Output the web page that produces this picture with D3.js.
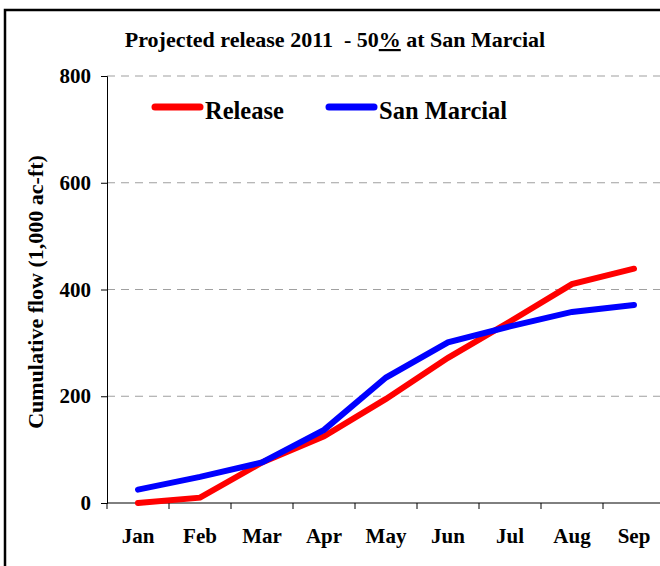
<!DOCTYPE html>
<html>
<head>
<meta charset="utf-8">
<script src="https://cdn.jsdelivr.net/npm/d3@7"></script>
<style>
  body { margin: 0; background: #fff; }
  svg { display: block; font-family: "Liberation Serif", "Times New Roman", serif; font-weight: bold; }
</style>
</head>
<body>
<svg id="chart" width="660" height="566"></svg>
<script>
// Chart data
var months = ['Jan', 'Feb', 'Mar', 'Apr', 'May', 'Jun', 'Jul', 'Aug', 'Sep'];
var release = [0, 10, 76, 125, 195, 272, 340, 410, 439];
var sanMarcial = [25, 49, 76, 137, 235, 301, 331, 358, 371];
var yTicks = [0, 200, 400, 600, 800];

var series = [
    {name: 'Release', values: release, color: '#ff0000'},
    {name: 'San Marcial', values: sanMarcial, color: '#0000ff'}
];

const svg = d3.select('#chart');

// Outer frame (runs off the right and bottom of the picture)
svg.append('rect')
    .attr('x', 5).attr('y', 10)
    .attr('width', 700).attr('height', 600)
    .attr('fill', 'none')
    .attr('stroke', '#000')
    .attr('stroke-width', 2.5);

const plotLeft = 107, plotRight = 665, plotTop = 76, plotBottom = 503;

const x = d3.scaleBand().domain(months).range([plotLeft, plotRight]);
const y = d3.scaleLinear().domain([0, 800]).range([plotBottom, plotTop]);

// Gridlines
svg.append('g')
    .selectAll('line')
    .data(yTicks.filter(d => d > 0))
    .join('line')
    .attr('x1', plotLeft).attr('x2', plotRight)
    .attr('y1', d => y(d)).attr('y2', d => y(d))
    .attr('stroke', '#a0a0a0')
    .attr('stroke-width', 1.2)
    .attr('stroke-dasharray', '8,6');

// Y axis
const yAxis = svg.append('g')
    .attr('transform', `translate(${plotLeft},0)`)
    .call(d3.axisLeft(y).tickValues(yTicks).tickSize(6).tickPadding(10));
yAxis.selectAll('text')
    .attr('font-size', 21)
    .attr('font-family', '"Liberation Serif", serif')
    .attr('font-weight', 'bold')
    .attr('fill', '#000');

// X axis, ticks at category boundaries
const xAxis = svg.append('g')
    .attr('transform', `translate(0,${plotBottom})`);
xAxis.append('line')
    .attr('x1', plotLeft).attr('x2', plotRight)
    .attr('stroke', '#000');
xAxis.selectAll('.tk')
    .data(months)
    .join('line')
    .attr('class', 'tk')
    .attr('x1', d => x(d)).attr('x2', d => x(d))
    .attr('y1', 0).attr('y2', 6)
    .attr('stroke', '#000');
xAxis.selectAll('text')
    .data(months)
    .join('text')
    .attr('x', d => x(d) + x.bandwidth() / 2)
    .attr('y', 40)
    .attr('text-anchor', 'middle')
    .attr('font-size', 21)
    .text(d => d);

// Series lines
const line = d3.line()
    .x((d, i) => x(months[i]) + x.bandwidth() / 2)
    .y(d => y(d));

svg.append('g')
    .selectAll('path')
    .data(series)
    .join('path')
    .attr('d', d => line(d.values))
    .attr('fill', 'none')
    .attr('stroke', d => d.color)
    .attr('stroke-width', 6)
    .attr('stroke-linecap', 'round')
    .attr('stroke-linejoin', 'miter');

// Title
const title = svg.append('text')
    .attr('x', 335).attr('y', 47)
    .attr('text-anchor', 'middle')
    .attr('font-size', 22)
    .attr('xml:space', 'preserve');
title.append('tspan').text('Projected release 2011\u00a0 - 50');
title.append('tspan').attr('text-decoration', 'underline').text('%');
title.append('tspan').text(' at San Marcial');

// Y axis title
svg.append('text')
    .attr('transform', 'translate(43,292) rotate(-90)')
    .attr('text-anchor', 'middle')
    .attr('font-size', 22)
    .text('Cumulative flow (1,000 ac-ft)');

// Legend
const legendX = [155, 329];
const legend = svg.append('g')
    .selectAll('g')
    .data(series)
    .join('g')
    .attr('transform', (d, i) => `translate(${legendX[i]},107)`);
legend.append('line')
    .attr('x1', 0).attr('x2', 45)
    .attr('stroke', d => d.color)
    .attr('stroke-width', 7)
    .attr('stroke-linecap', 'round');
legend.append('text')
    .attr('x', 50).attr('y', 12)
    .attr('font-size', 24.5)
    .text(d => d.name);
</script>
</body>
</html>
